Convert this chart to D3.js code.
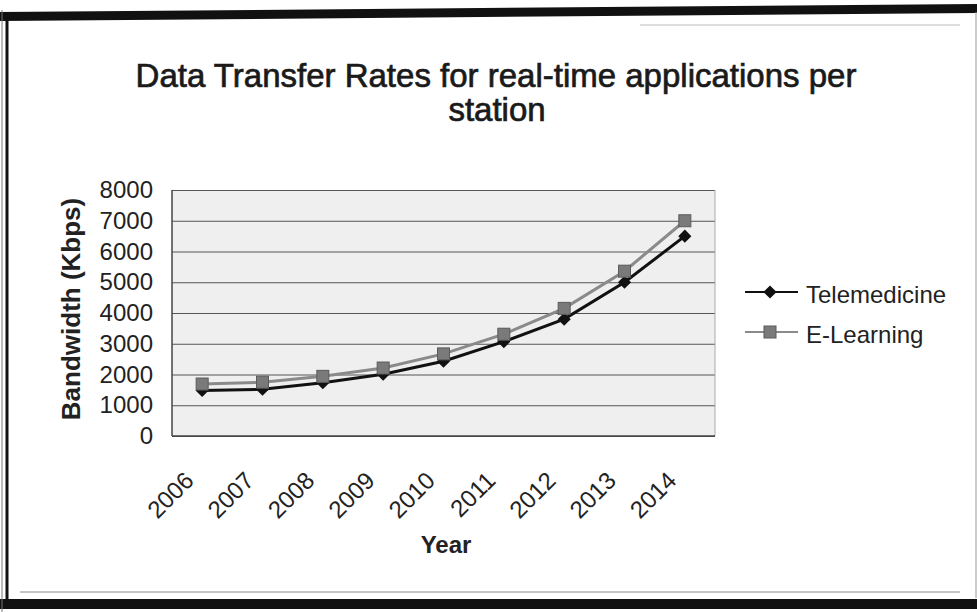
<!DOCTYPE html>
<html>
<head>
<meta charset="utf-8">
<script src="https://cdn.jsdelivr.net/npm/d3@7"></script>
<style>
  html, body { margin: 0; padding: 0; background: #fff; }
  svg { display: block; font-family: "Liberation Sans", Arial, sans-serif; }
</style>
</head>
<body>
<svg id="chart" width="977" height="612"></svg>
<script>
// Data
const years = ["2006", "2007", "2008", "2009", "2010", "2011", "2012", "2013", "2014"];
const telemedicine = [1480, 1520, 1730, 2010, 2430, 3070, 3800, 5000, 6500];
const eLearning = [1690, 1750, 1940, 2210, 2670, 3310, 4150, 5360, 7000];
const yTicks = [0, 1000, 2000, 3000, 4000, 5000, 6000, 7000, 8000];
const seriesNames = ["Telemedicine", "E-Learning"];

const svg = d3.select("#chart");

// Outer frame
const frame = svg.append("g");
frame.append("polygon").attr("points", "0,12 977,4 977,13 0,21").attr("fill", "#111");
frame.append("rect").attr("x", 0).attr("y", 599).attr("width", 977).attr("height", 10).attr("fill", "#111");
frame.append("line").attr("x1", 2).attr("x2", 2).attr("y1", 10).attr("y2", 612).attr("stroke", "#777").attr("stroke-width", 1);
frame.append("line").attr("x1", 7).attr("x2", 7).attr("y1", 14).attr("y2", 600).attr("stroke", "#111").attr("stroke-width", 3);
frame.append("line").attr("x1", 976).attr("x2", 976).attr("y1", 12).attr("y2", 598).attr("stroke", "#999").attr("stroke-width", 1);
frame.append("line").attr("x1", 20).attr("x2", 960).attr("y1", 592).attr("y2", 592).attr("stroke", "#888").attr("stroke-width", 1);
frame.append("line").attr("x1", 640).attr("x2", 960).attr("y1", 25).attr("y2", 25).attr("stroke", "#bbb").attr("stroke-width", 1);

// Plot area
const plotLeft = 172, plotRight = 715, plotTop = 190, plotBottom = 436;
const x = d3.scaleBand().domain(years).range([plotLeft, plotRight]);
const y = d3.scaleLinear().domain([0, 8000]).range([plotBottom, plotTop]);
const cx = d => x(d) + x.bandwidth() / 2;

svg.append("rect")
  .attr("x", plotLeft).attr("y", plotTop)
  .attr("width", plotRight - plotLeft).attr("height", plotBottom - plotTop)
  .attr("fill", "#efefef");

// Gridlines
const grid = svg.append("g").attr("transform", `translate(${plotLeft},0)`)
  .call(d3.axisLeft(y).tickValues(yTicks).tickSize(-(plotRight - plotLeft)).tickFormat(""));
grid.select(".domain").remove();
grid.selectAll(".tick line").attr("stroke", "#555").attr("stroke-width", 1);

// Plot border
svg.append("line").attr("x1", plotLeft).attr("x2", plotLeft).attr("y1", plotTop).attr("y2", plotBottom)
  .attr("stroke", "#444").attr("stroke-width", 1.5);
svg.append("line").attr("x1", plotRight).attr("x2", plotRight).attr("y1", plotTop).attr("y2", plotBottom)
  .attr("stroke", "#aaa").attr("stroke-width", 1);
svg.append("line").attr("x1", plotLeft).attr("x2", plotRight).attr("y1", plotBottom).attr("y2", plotBottom)
  .attr("stroke", "#444").attr("stroke-width", 1.5);

// Y axis labels
const yAxis = svg.append("g").attr("transform", `translate(${plotLeft},0)`)
  .call(d3.axisLeft(y).tickValues(yTicks).tickSize(0).tickPadding(19).tickFormat(d3.format("d")));
yAxis.select(".domain").remove();
yAxis.selectAll("text")
  .attr("font-size", 24).attr("fill", "#222")
  .style("font-family", "'Liberation Sans', Arial, sans-serif");

// X axis labels
const xAxis = svg.append("g").attr("transform", `translate(0,${plotBottom})`)
  .call(d3.axisBottom(x).tickSize(0).tickFormat(d => d));
xAxis.select(".domain").remove();
xAxis.selectAll("text")
  .attr("font-size", 24).attr("fill", "#222")
  .style("font-family", "'Liberation Sans', Arial, sans-serif")
  .attr("text-anchor", "end")
  .attr("y", 0).attr("dy", 0)
  .attr("transform", "translate(-7,46) rotate(-45)");

// Lines and markers
const line = d3.line().x((d, i) => cx(years[i])).y(d => y(d));

svg.append("path").datum(eLearning)
  .attr("d", line).attr("fill", "none")
  .attr("stroke", "#8a8a8a").attr("stroke-width", 3);
svg.append("path").datum(telemedicine)
  .attr("d", line).attr("fill", "none")
  .attr("stroke", "#111").attr("stroke-width", 3);

const diamond = d3.symbol().type(d3.symbolDiamond2).size(110);
svg.append("g").selectAll("path").data(telemedicine).join("path")
  .attr("d", diamond)
  .attr("transform", (d, i) => `translate(${cx(years[i])},${y(d)})`)
  .attr("fill", "#111");

svg.append("g").selectAll("rect").data(eLearning).join("rect")
  .attr("x", (d, i) => cx(years[i]) - 6).attr("y", d => y(d) - 6)
  .attr("width", 12).attr("height", 12)
  .attr("fill", "#7a7a7a").attr("stroke", "#5a5a5a").attr("stroke-width", 1);

// Title
const title = svg.append("text")
  .attr("x", 496).attr("text-anchor", "middle")
  .attr("font-size", 33).attr("fill", "#1a1a1a")
  .attr("stroke", "#1a1a1a").attr("stroke-width", 0.7);
title.append("tspan").attr("x", 496).attr("y", 87).text("Data Transfer Rates for real-time applications per");
title.append("tspan").attr("x", 497).attr("y", 121).text("station");

// Axis titles
svg.append("text")
  .attr("transform", "translate(80,309) rotate(-90)")
  .attr("text-anchor", "middle")
  .attr("font-size", 26).attr("font-weight", "bold").attr("fill", "#222")
  .text("Bandwidth (Kbps)");

svg.append("text")
  .attr("x", 446).attr("y", 553).attr("text-anchor", "middle")
  .attr("font-size", 24).attr("font-weight", "bold").attr("fill", "#222")
  .text("Year");

// Legend
const legend = svg.append("g");
const legendRows = [
  { name: seriesNames[0], y: 292, color: "#111", marker: "diamond" },
  { name: seriesNames[1], y: 332, color: "#8a8a8a", marker: "square" }
];
legendRows.forEach(r => {
  legend.append("line").attr("x1", 745).attr("x2", 798).attr("y1", r.y).attr("y2", r.y)
    .attr("stroke", r.color).attr("stroke-width", 2);
  if (r.marker === "diamond") {
    legend.append("path").attr("d", diamond).attr("transform", `translate(770,${r.y})`).attr("fill", "#111");
  } else {
    legend.append("rect").attr("x", 764).attr("y", r.y - 6).attr("width", 12).attr("height", 12)
      .attr("fill", "#7a7a7a").attr("stroke", "#5a5a5a");
  }
  legend.append("text").attr("x", 806).attr("y", r.y + 4).attr("dy", "0.3em")
    .attr("font-size", 24).attr("fill", "#222").text(r.name);
});
</script>
</body>
</html>
